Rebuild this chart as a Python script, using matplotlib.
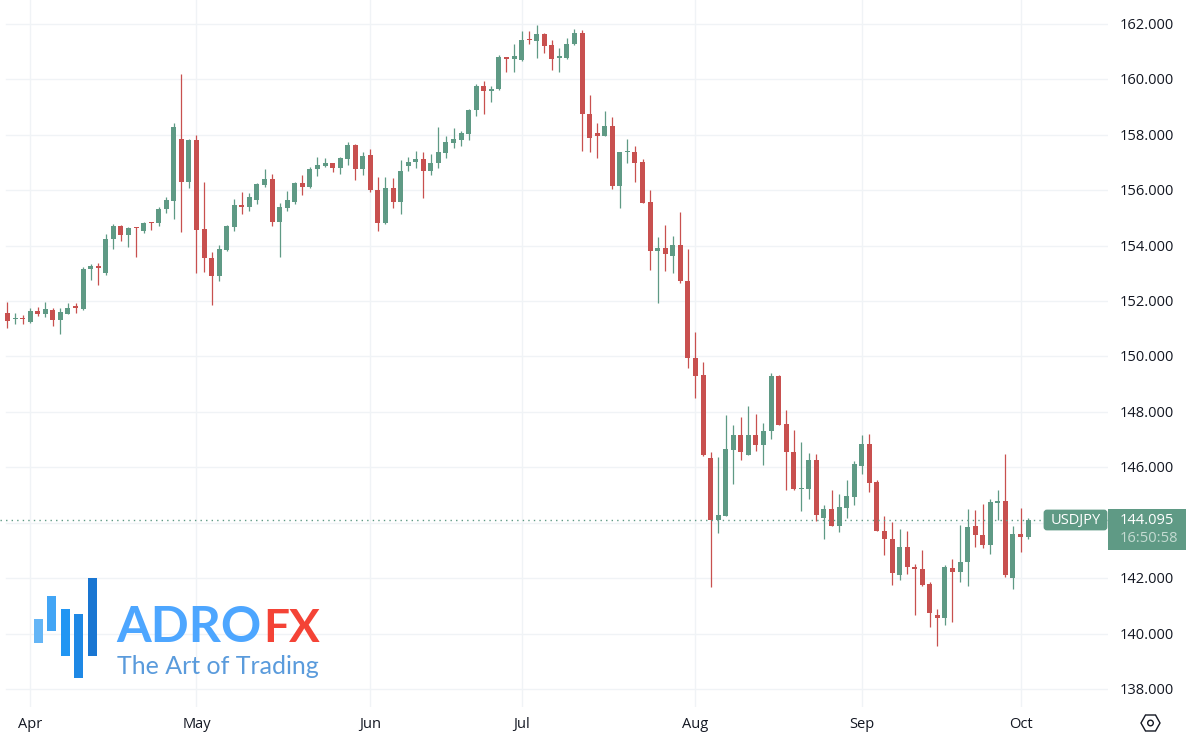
import pandas as pd
import numpy as np
import matplotlib
matplotlib.use('Agg')
import matplotlib.pyplot as plt
from matplotlib.patches import Rectangle, FancyBboxPatch, Polygon, Circle

dates = pd.bdate_range('2024-03-27', '2024-10-02')

opens = [151.56,151.35,151.40,151.23,151.64,151.53,151.69,151.33,151.54,151.78,
151.70,153.15,153.25,153.00,154.24,154.72,154.37,154.66,154.52,154.85,
154.82,155.33,155.62,157.85,156.29,157.79,154.60,153.55,152.91,153.84,
154.68,155.46,155.40,155.65,156.18,156.40,154.85,155.35,155.57,156.25,
156.11,156.76,156.87,156.98,156.81,157.12,157.62,156.77,157.26,156.00,
154.81,156.07,155.58,156.88,157.02,157.11,156.70,156.97,157.35,157.71,
157.80,158.03,158.88,159.75,159.57,159.63,160.80,160.72,160.68,161.44,
161.37,161.62,161.22,160.77,160.76,161.26,161.66,158.74,158.05,157.95,
158.31,156.13,157.37,157.37,157.01,155.57,153.81,153.91,153.62,154.02,
152.72,149.94,149.33,146.35,144.11,144.25,146.64,147.17,146.43,147.17,
146.79,147.31,149.30,147.56,146.56,145.22,145.22,146.28,144.18,144.50,
143.90,144.54,144.94,146.06,146.84,145.46,143.71,143.42,142.12,143.13,
142.41,142.34,141.80,140.68,140.57,142.37,142.23,142.59,143.89,143.56,
143.20,144.72,144.79,142.01,143.61,143.49]

highs = [151.98,151.56,151.50,151.76,151.77,151.95,151.76,151.74,151.93,151.92,
153.21,153.32,153.36,154.43,154.78,154.74,154.66,154.66,154.84,154.85,
155.38,155.74,158.41,160.19,157.83,157.99,156.28,153.75,154.01,154.73,
155.67,155.94,155.88,156.24,156.77,156.57,155.52,155.98,156.28,156.54,
156.82,157.19,157.16,156.98,157.18,157.72,157.65,157.36,157.48,156.48,
156.48,156.43,157.08,157.19,157.41,157.37,157.31,158.26,157.95,158.24,
158.13,158.94,159.81,159.93,159.75,160.86,160.80,161.28,161.73,161.73,
161.95,161.66,161.41,161.12,161.50,161.81,161.77,159.43,158.42,158.85,
158.62,157.37,157.86,157.59,157.11,156.00,154.30,154.74,154.34,155.21,
153.87,150.87,149.79,146.55,146.36,147.89,147.53,147.82,148.22,147.93,
147.59,149.39,149.33,148.07,147.35,146.91,146.52,146.49,144.65,145.18,
145.04,145.55,146.22,147.17,147.21,145.53,144.24,144.02,143.78,143.71,
142.52,143.02,141.86,140.89,142.47,142.70,143.92,144.50,144.45,144.68,
144.85,145.20,146.48,143.89,144.52,144.16]

lows = [151.01,151.16,151.16,151.21,151.47,151.43,151.11,150.81,151.54,151.58,
151.69,152.77,152.59,152.95,153.89,154.16,153.95,153.60,154.44,154.56,
154.72,155.18,154.97,154.50,156.07,153.00,153.06,151.86,152.73,153.81,
154.52,155.15,155.26,155.50,156.12,154.70,153.60,155.25,155.51,155.82,
156.07,156.51,156.82,156.65,156.58,156.89,156.36,156.56,155.93,154.52,
154.79,155.36,155.12,156.70,156.80,155.72,156.55,156.80,157.15,157.51,
157.59,157.79,158.68,158.74,159.17,159.61,160.27,160.27,160.65,161.26,
160.76,160.94,160.33,160.27,160.74,161.23,157.41,157.37,157.15,157.95,
156.04,155.35,156.96,156.28,155.53,153.11,151.92,153.08,153.01,152.65,
149.60,148.50,146.42,141.70,143.62,144.25,145.40,146.27,146.43,146.59,
146.08,147.04,147.52,145.18,145.18,144.44,144.85,144.05,143.43,143.90,
143.68,144.17,144.63,145.76,145.11,143.70,142.84,141.76,141.94,142.17,
140.68,141.74,140.26,139.57,140.33,140.43,141.87,141.72,143.13,143.09,
142.88,144.10,142.05,141.62,142.95,143.42]

closes = [151.29,151.40,151.35,151.63,151.54,151.70,151.33,151.60,151.76,151.76,
153.15,153.26,153.20,154.24,154.70,154.37,154.63,154.62,154.82,154.81,
155.32,155.64,158.27,156.28,157.79,154.57,153.54,152.91,153.87,154.70,
155.46,155.40,155.75,156.21,156.40,154.85,155.39,155.64,156.25,156.11,
156.76,156.90,156.98,156.81,157.16,157.62,156.77,157.23,156.00,154.82,
156.07,155.58,156.68,157.02,157.12,156.70,156.97,157.36,157.72,157.84,
158.05,158.88,159.75,159.57,159.64,160.80,160.74,160.83,161.41,161.41,
161.62,161.19,160.74,160.80,161.26,161.66,158.74,157.87,157.95,158.31,
156.13,157.37,157.41,156.97,155.53,153.81,153.91,153.69,154.02,152.72,
149.94,149.31,146.45,144.11,144.29,146.67,147.17,146.57,147.17,146.79,
147.31,149.30,147.52,146.56,145.21,145.26,146.28,144.30,144.50,143.90,
144.56,144.97,146.12,146.85,145.45,143.70,143.42,142.19,143.13,142.40,
142.33,141.77,140.75,140.57,142.40,142.23,142.59,143.85,143.55,143.20,
144.75,144.79,142.12,143.61,143.50,144.095]

price_ticks = list(range(138, 163, 2))
price_labels = [p for p in price_ticks if p != 144]  # hidden behind the price tag
symbol = "USDJPY"
countdown = "16:50:58"

GREEN = "#5f9a85"
RED = "#c8504f"
GRID = "#f0f3f6"
TEXT = "#131722"
plt.rcParams['font.family'] = ['Open Sans', 'DejaVu Sans']
FS = 10.5

W, H = 1186, 746
fig = plt.figure(figsize=(W / 100, H / 100), dpi=100)
ax = fig.add_axes([0, 39 / H, 1108 / W, 707 / H])

o = np.array(opens)
c = np.array(closes)
x = np.arange(len(dates))
colors = [GREEN if b >= a else RED for a, b in zip(o, c)]

month_pos = [i for i in x[1:] if dates[i].month != dates[i - 1].month]
month_labels = [dates[i].strftime('%b') for i in month_pos]

for p in price_ticks:
    ax.axhline(p, xmin=6 / 1108, color=GRID, lw=1, zorder=0)
for m in month_pos:
    ax.axvline(m, color=GRID, lw=1, zorder=0)

ax.vlines(x, lows, highs, color=colors, lw=0.9, zorder=2)
heights = np.maximum(np.abs(c - o), 0.05)
ax.bar(x, heights, bottom=np.minimum(o, c), width=0.66, color=colors, linewidth=0, zorder=3)
ax.axhline(closes[-1], color=GREEN, lw=1, ls=(0, (1, 3)), zorder=4)

ax.set_xlim(-0.99, 145.57)
ax.set_ylim(137.36, 162.855)
for s in ax.spines.values():
    s.set_visible(False)
ax.set_yticks([])
ax.set_xticks(month_pos, month_labels, fontsize=FS, color=TEXT)
ax.tick_params(axis='x', length=0, pad=7)

# overlay in pixels for price scale, tags and logo
ov = fig.add_axes([0, 0, 1, 1], facecolor='none')
ov.set_xlim(0, W)
ov.set_ylim(H, 0)
ov.axis('off')

to_px = lambda p: ax.transData.transform((0, p))[1]
for p in price_labels:
    ypx = H - to_px(p)
    ov.text(1120, ypx + 1.5, f"{p:.3f}", fontsize=FS, color=TEXT, va='center', ha='left')

ov.add_patch(FancyBboxPatch((1045, 511), 61, 18, boxstyle="round,pad=0,rounding_size=2", fc=GREEN, ec=GREEN, lw=2))
ov.text(1075.5, 520.5, symbol, fontsize=FS, color="white", va='center', ha='center')
ov.add_patch(Rectangle((1108, 509), 78, 41, fc=GREEN, ec='none'))
ov.text(1120, 520.5, f"{closes[-1]:.3f}", fontsize=FS, color="white", va='center', ha='left')
ov.text(1120, 539, countdown, fontsize=FS, color="#c5dbd2", va='center', ha='left')

# settings icon
ov.add_patch(Polygon([(1141, 723), (1145.5, 715), (1155.5, 715), (1160, 723), (1155.5, 731), (1145.5, 731)],
                     closed=True, fc='white', ec=TEXT, lw=1))
ov.add_patch(Circle((1150.5, 723), 2.8, fc='white', ec=TEXT, lw=1))

# logo
logo_bars = [(34, 619, 9, 24, "#64b5f6"), (47, 596, 9, 35, "#42a5f5"), (61, 609, 9, 47, "#2196f3"),
             (74, 614, 9, 64, "#1e88e5"), (88, 578, 9, 78, "#1976d2")]
for bx, by, bw, bh, bc in logo_bars:
    ov.add_patch(Rectangle((bx, by), bw, bh, fc=bc, ec='none'))
ov.text(116, 642.5, "ADRO", fontsize=36, fontweight='bold', family=['Lato', 'DejaVu Sans'],
        color="#4da6ff", va='baseline', ha='left')
ov.text(263, 642.5, "FX", fontsize=33, fontweight='bold', family=['Lato', 'DejaVu Sans'],
        color="#f44336", va='baseline', ha='left')
ov.text(117, 674, "The Art of Trading", fontsize=18, fontweight='normal', family=['Lato', 'DejaVu Sans'],
        color="#5a9bdc", va='baseline', ha='left')

fig.savefig('out.png', dpi=100, facecolor='white')
